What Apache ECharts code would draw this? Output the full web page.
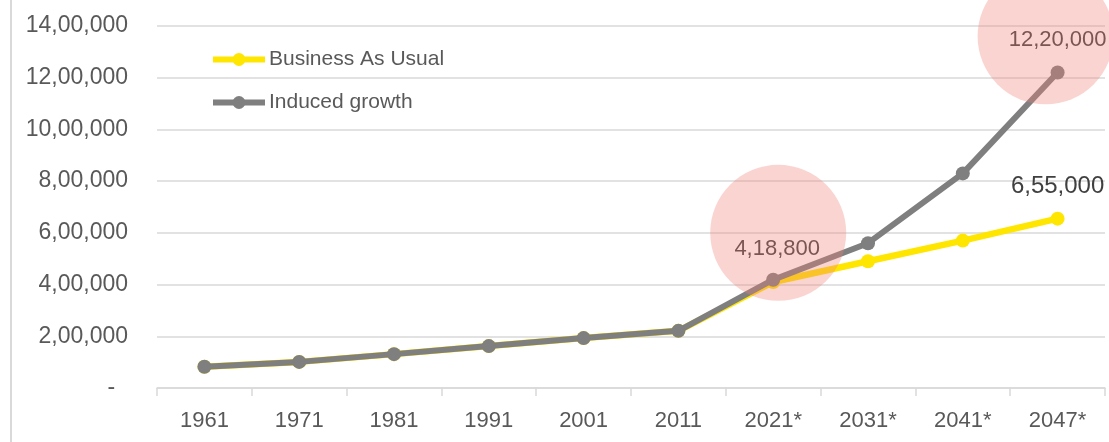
<!DOCTYPE html>
<html>
<head>
<meta charset="utf-8">
<script src="https://cdn.jsdelivr.net/npm/echarts@6/dist/echarts.min.js"></script>
<style>
  html, body { margin: 0; padding: 0; background: #fff; }
  #chart { width: 1109px; height: 442px; }
</style>
</head>
<body>
<div id="chart"></div>
<script>
var years = ["1961", "1971", "1981", "1991", "2001", "2011", "2021*", "2031*", "2041*", "2047*"];
var businessAsUsual = [82000, 101000, 131000, 162000, 193000, 221000, 410000, 490000, 570000, 655000];
var inducedGrowth = [82000, 101000, 131000, 162000, 193000, 221000, 418800, 560000, 830000, 1220000];
// highlighted points (pink circles): [category, centre value]
var highlights = [["2021*", 600000], ["2047*", 1360000]];

// Indian digit grouping, e.g. 12,20,000
function indianFormat(v) {
  var s = String(Math.round(v));
  var last3 = s.slice(-3);
  var rest = s.slice(0, -3);
  if (rest) {
    rest = rest.replace(/\B(?=(\d{2})+(?!\d))/g, ",");
    return rest + "," + last3;
  }
  return last3;
}

var font = "Liberation Sans, Arial, sans-serif";
var dom = document.getElementById("chart");
var myChart = echarts.init(dom, null, { renderer: "canvas" });

var option = {
  animation: false,
  textStyle: { fontFamily: font },
  grid: { left: 157, right: 4, top: 26, bottom: 54 },
  graphic: [
    {
      // left frame edge of the original picture
      type: "line",
      shape: { x1: 11, y1: 0, x2: 11, y2: 442 },
      style: { stroke: "#d9d9d9", lineWidth: 2 }
    }
  ],
  legend: {
    orient: "vertical",
    left: 205,
    top: 44,
    itemWidth: 52,
    itemHeight: 16,
    itemGap: 22,
    lineStyle: { width: 6 },
    textStyle: { fontSize: 21, color: "#595959", fontFamily: font, padding: [0, 0, 0, -1] },
    data: ["Business As Usual", "Induced growth"]
  },
  xAxis: {
    type: "category",
    data: years,
    boundaryGap: true,
    axisLine: { lineStyle: { color: "#d9d9d9", width: 1.5 } },
    axisTick: { show: true, length: 8, lineStyle: { color: "#d9d9d9", width: 1.5 } },
    axisLabel: { fontSize: 22, color: "#595959", margin: 22 }
  },
  yAxis: {
    type: "value",
    min: 0,
    max: 1400000,
    interval: 200000,
    axisLine: { show: false },
    axisTick: { show: false },
    splitLine: { lineStyle: { color: "#d9d9d9", width: 1.5 } },
    axisLabel: {
      fontSize: 23,
      color: "#595959",
      margin: 29,
      formatter: function (v) {
        return v === 0 ? "-  " : indianFormat(v);
      }
    }
  },
  series: [
    {
      name: "Business As Usual",
      type: "line",
      data: businessAsUsual,
      z: 2,
      symbol: "circle",
      symbolSize: 14,
      color: "#ffe600",
      lineStyle: { width: 6.5, color: "#ffe600" },
      itemStyle: { color: "#ffe600" },
      label: {
        show: true,
        position: "top",
        distance: 13,
        fontSize: 24,
        color: "#404040",
        formatter: function (p) {
          return p.dataIndex === businessAsUsual.length - 1 ? indianFormat(p.value) : "";
        }
      }
    },
    {
      name: "Induced growth",
      type: "line",
      data: inducedGrowth,
      z: 3,
      symbol: "circle",
      symbolSize: 14,
      color: "#7f7f7f",
      lineStyle: { width: 6, color: "#7f7f7f" },
      itemStyle: { color: "#7f7f7f" },
      label: {
        show: true,
        position: "top",
        fontSize: 22,
        color: "#404040",
        formatter: function (p) {
          if (p.dataIndex === 6 || p.dataIndex === inducedGrowth.length - 1) return indianFormat(p.value);
          return "";
        }
      },
      labelLayout: function (p) {
        if (p.dataIndex === 6) return { dx: 4, dy: -8 };
        if (p.dataIndex === inducedGrowth.length - 1) return { dx: 0, dy: -10 };
        return {};
      }
    },
    {
      name: "highlight",
      type: "scatter",
      // nudge the circles a little off the category centres, as in the original
      data: highlights.map(function (h, i) {
        return { value: h, symbolOffset: i === 0 ? [5, 0] : [-12, 0] };
      }),
      z: 10,
      symbol: "circle",
      symbolSize: 136,
      silent: true,
      itemStyle: { color: "rgba(240,128,118,0.42)" }
    }
  ]
};

if (option && typeof option === "object") {
  myChart.setOption(option);
}
</script>
</body>
</html>
